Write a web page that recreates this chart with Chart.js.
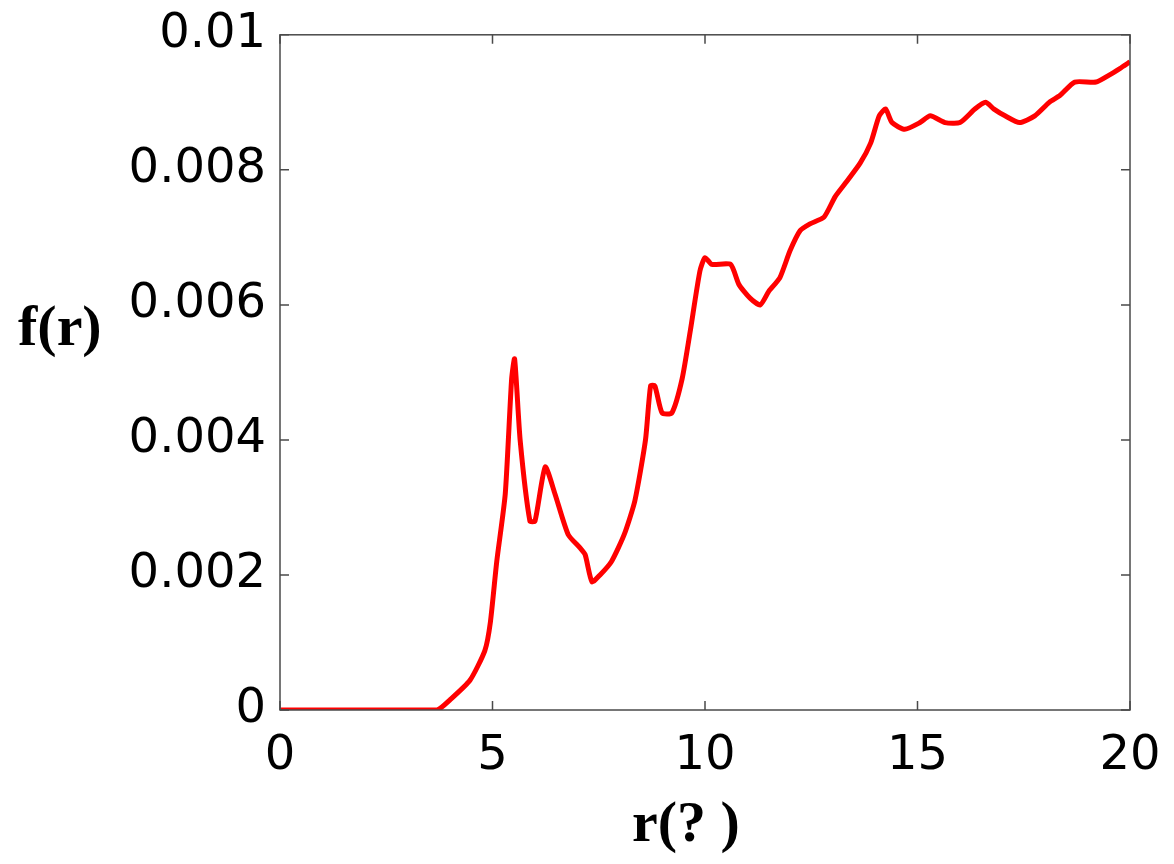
<!DOCTYPE html>
<html>
<head>
<meta charset="utf-8">
<script src="https://cdn.jsdelivr.net/npm/chart.js@4.4.1/dist/chart.umd.min.js"></script>
<style>
    html, body { margin: 0; padding: 0; background: #fff; }
    #wrap { width: 1174px; height: 864px; }
</style>
</head>
<body>
<div id="wrap"><canvas id="chart" width="1174" height="864"></canvas></div>
<script>
// r values (x) and f(r) values
const rValues = [0, 1, 2, 3, 3.7, 4.0, 4.47, 4.82, 4.95, 5.1, 5.3, 5.45, 5.52, 5.65, 5.88, 6.0,
    6.24, 6.47, 6.78, 7.06, 7.18, 7.34, 7.53, 7.8, 8.1, 8.35, 8.6, 8.72, 8.82, 8.99, 9.22,
    9.46, 9.65, 9.88, 10.0, 10.16, 10.6, 10.8, 11.06, 11.3, 11.5, 11.76, 12.0, 12.24, 12.47,
    12.8, 13.06, 13.3, 13.65, 13.9, 14.1, 14.25, 14.4, 14.7, 15.06, 15.3, 15.65, 16.0, 16.35,
    16.6, 16.8, 17.06, 17.4, 17.76, 18.1, 18.35, 18.7, 19.2, 19.5, 19.76, 20.0];
const fValues = [0, 0, 0, 0, 0, 0.00015, 0.00044, 0.00088, 0.0013, 0.0022, 0.0032, 0.0049, 0.0052, 0.0040, 0.0028, 0.0028,
    0.0036, 0.0032, 0.0026, 0.0024, 0.0023, 0.0019, 0.0020, 0.0022, 0.0026, 0.0031, 0.0040, 0.0048, 0.0048, 0.0044, 0.0044,
    0.0049, 0.0056, 0.0065, 0.0067, 0.0066, 0.0066, 0.0063, 0.0061, 0.0060, 0.0062, 0.0064, 0.0068, 0.0071, 0.0072,
    0.0073, 0.0076, 0.0078, 0.0081, 0.0084, 0.0088, 0.0089, 0.0087, 0.0086, 0.0087, 0.0088, 0.0087, 0.0087, 0.0089,
    0.0090, 0.0089, 0.0088, 0.0087, 0.0088, 0.0090, 0.0091, 0.0093, 0.0093, 0.0094, 0.0095, 0.0096];
const xTicks = [0, 5, 10, 15, 20];
const yTicks = [0, 0.002, 0.004, 0.006, 0.008, 0.01];
const xTitle = 'r(? )';
const yTitle = 'f(r)';

const points = rValues.map((r, i) => ({ x: r, y: fValues[i] }));

// box, inward ticks and the two axis titles
const frame = {
    id: 'frame',
    afterDraw(chart) {
        const ctx = chart.ctx;
        const a = chart.chartArea;
        const xs = chart.scales.x, ys = chart.scales.y;
        ctx.save();
        ctx.strokeStyle = '#4a4a4a';
        ctx.lineWidth = 1.5;
        ctx.strokeRect(a.left, a.top, a.right - a.left, a.bottom - a.top);
        ctx.beginPath();
        xTicks.forEach(v => {
            const px = xs.getPixelForValue(v);
            ctx.moveTo(px, a.bottom); ctx.lineTo(px, a.bottom - 9);
            ctx.moveTo(px, a.top); ctx.lineTo(px, a.top + 9);
        });
        yTicks.forEach(v => {
            const py = ys.getPixelForValue(v);
            ctx.moveTo(a.left, py); ctx.lineTo(a.left + 9, py);
            ctx.moveTo(a.right, py); ctx.lineTo(a.right - 9, py);
        });
        ctx.stroke();

        ctx.fillStyle = '#000';
        ctx.font = 'bold 58px "Liberation Serif", "Times New Roman", serif';
        ctx.textBaseline = 'middle';
        ctx.textAlign = 'left';
        ctx.fillText(yTitle, 18, 330);
        ctx.textAlign = 'center';
        ctx.fillText(xTitle, 686, 826);
        ctx.restore();
    }
};

new Chart(document.getElementById('chart'), {
    type: 'line',
    data: {
        datasets: [{
            data: points,
            borderColor: '#ff0000',
            borderWidth: 5,
            pointRadius: 0,
            tension: 0.2,
            fill: false
        }]
    },
    options: {
        responsive: false,
        animation: false,
        layout: { padding: { top: 19, right: 44, bottom: 0, left: 0 } },
        plugins: { legend: { display: false }, tooltip: { enabled: false } },
        scales: {
            x: {
                type: 'linear',
                min: 0, max: 20,
                afterBuildTicks: s => { s.ticks = xTicks.map(v => ({ value: v })); },
                afterFit: s => { s.height = 154; },
                grid: { display: false },
                border: { display: false },
                ticks: {
                    color: '#000',
                    padding: 10,
                    font: { family: '"DejaVu Sans", Verdana, sans-serif', size: 48 },
                    callback: v => String(v)
                }
            },
            y: {
                type: 'linear',
                min: 0, max: 0.01,
                afterBuildTicks: s => { s.ticks = yTicks.map(v => ({ value: v })); },
                afterFit: s => { s.width = 280; },
                grid: { display: false },
                border: { display: false },
                ticks: {
                    color: '#000',
                    padding: 6,
                    font: { family: '"DejaVu Sans", Verdana, sans-serif', size: 48 },
                    callback: v => v === 0 ? '0' : (v === 0.01 ? '0.01' : v.toFixed(3))
                }
            }
        }
    },
    plugins: [frame]
});
</script>
</body>
</html>
